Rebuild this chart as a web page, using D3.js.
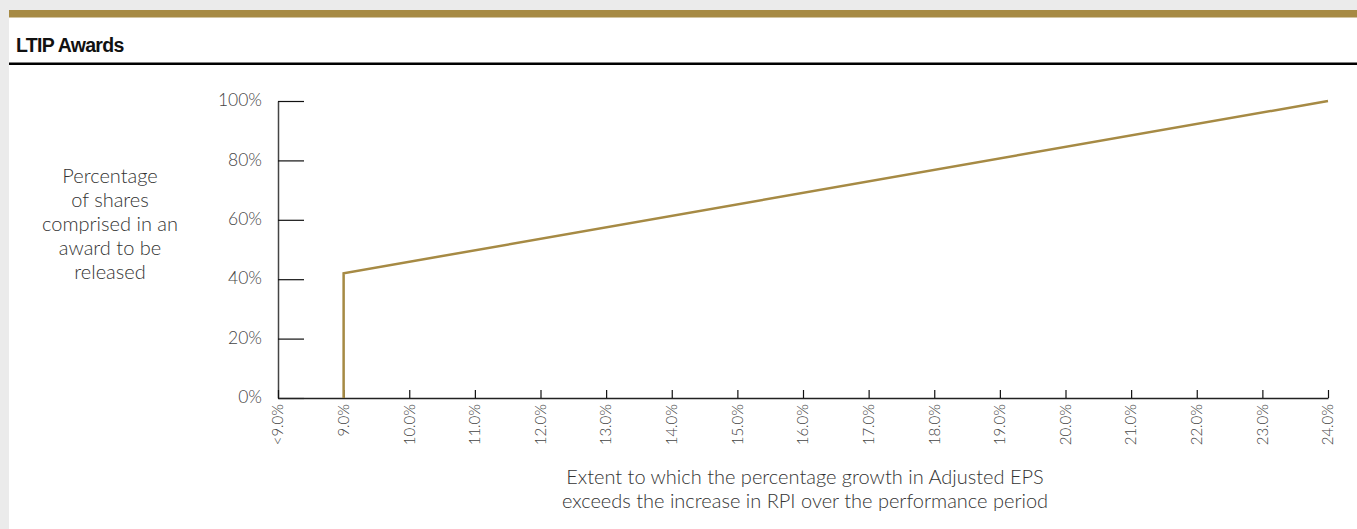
<!DOCTYPE html>
<html>
<head>
<meta charset="utf-8">
<script src="https://cdn.jsdelivr.net/npm/d3@7"></script>
<style>
  html, body { margin: 0; padding: 0; background: #ebebeb; }
  svg { display: block; }
</style>
</head>
<body>
<svg id="chart" width="1357" height="529"></svg>
<script>
const categories = ["<9.0%", "9.0%", "10.0%", "11.0%", "12.0%", "13.0%", "14.0%", "15.0%", "16.0%", "17.0%", "18.0%", "19.0%", "20.0%", "21.0%", "22.0%", "23.0%", "24.0%"];
const lineX = ["9.0%", "9.0%", "24.0%"];
const lineY = [0, 42, 100];
const yTicks = [0, 20, 40, 60, 80, 100];
const title = "LTIP Awards";
const yTitle = ["Percentage", "of shares", "comprised in an", "award to be", "released"];
const xTitle = ["Extent to which the percentage growth in Adjusted EPS", "exceeds the increase in RPI over the performance period"];

const gold = "#a68a44";
const lightFont = "Lato, 'Open Sans', sans-serif";

const svg = d3.select("#chart");
const W = 1357, H = 529;

// panel
svg.append("rect").attr("x", 9).attr("y", 10).attr("width", W - 9).attr("height", H - 10).attr("fill", "#fff");
svg.append("rect").attr("x", 9).attr("y", 10).attr("width", W - 9).attr("height", 7.5).attr("fill", gold);
svg.append("text").attr("x", 16).attr("y", 52).text(title)
  .attr("font-family", "'Liberation Sans Narrow', 'Arial Narrow', sans-serif")
  .attr("font-weight", "bold").attr("font-size", 19.5).attr("letter-spacing", -0.7).attr("fill", "#111");
svg.append("rect").attr("x", 9).attr("y", 62.5).attr("width", W - 9).attr("height", 2.5).attr("fill", "#000");

const mLeft = 278, mRight = 1328, mTop = 101, mBottom = 398;
const x = d3.scalePoint().domain(categories).range([mLeft, mRight]);
const y = d3.scaleLinear().domain([0, 100]).range([mBottom, mTop]);

// y axis
const yAxis = d3.axisRight(y).tickValues(yTicks).tickSize(26).tickFormat("").tickSizeOuter(0);
const gy = svg.append("g").attr("transform", `translate(${mLeft},0)`).call(yAxis);
gy.select(".domain").attr("stroke", "#444").attr("stroke-width", 1.5);
gy.selectAll(".tick line").attr("stroke", "#111").attr("stroke-width", 1.2);

svg.append("g").selectAll("text").data(yTicks).join("text")
  .attr("x", 262).attr("y", d => y(d)).attr("dy", "0.3em")
  .attr("text-anchor", "end")
  .attr("font-family", lightFont).attr("font-weight", 300).attr("font-size", 17.5).attr("fill", "#444")
  .text(d => d + "%");

// x axis
const xAxis = d3.axisTop(x).tickSize(8).tickFormat("").tickSizeOuter(0);
const gx = svg.append("g").attr("transform", `translate(0,${mBottom})`).call(xAxis);
gx.select(".domain").attr("stroke", "#222").attr("stroke-width", 1.5);
gx.selectAll(".tick line").attr("stroke", "#111").attr("stroke-width", 1.2);

svg.append("g").selectAll("text").data(categories).join("text")
  .attr("transform", d => `translate(${x(d)},404) rotate(-90)`)
  .attr("text-anchor", "end").attr("dy", "0.35em")
  .attr("font-family", lightFont).attr("font-weight", 300).attr("font-size", 15).attr("fill", "#444")
  .text(d => d);

// line
const pts = lineX.map((c, i) => [x(c), y(lineY[i])]);
svg.append("path").attr("d", d3.line()(pts))
  .attr("fill", "none").attr("stroke", gold).attr("stroke-width", 2.5);

// y title
svg.append("text").attr("text-anchor", "middle")
  .attr("font-family", lightFont).attr("font-weight", 300).attr("font-size", 20).attr("fill", "#333")
  .selectAll("tspan").data(yTitle).join("tspan")
  .attr("x", 110).attr("y", (d, i) => 183 + i * 24).text(d => d);

// x title
svg.append("text").attr("text-anchor", "middle")
  .attr("font-family", lightFont).attr("font-weight", 300).attr("font-size", 20).attr("fill", "#333")
  .selectAll("tspan").data(xTitle).join("tspan")
  .attr("x", 805).attr("y", (d, i) => 484 + i * 24).text(d => d);
</script>
</body>
</html>
